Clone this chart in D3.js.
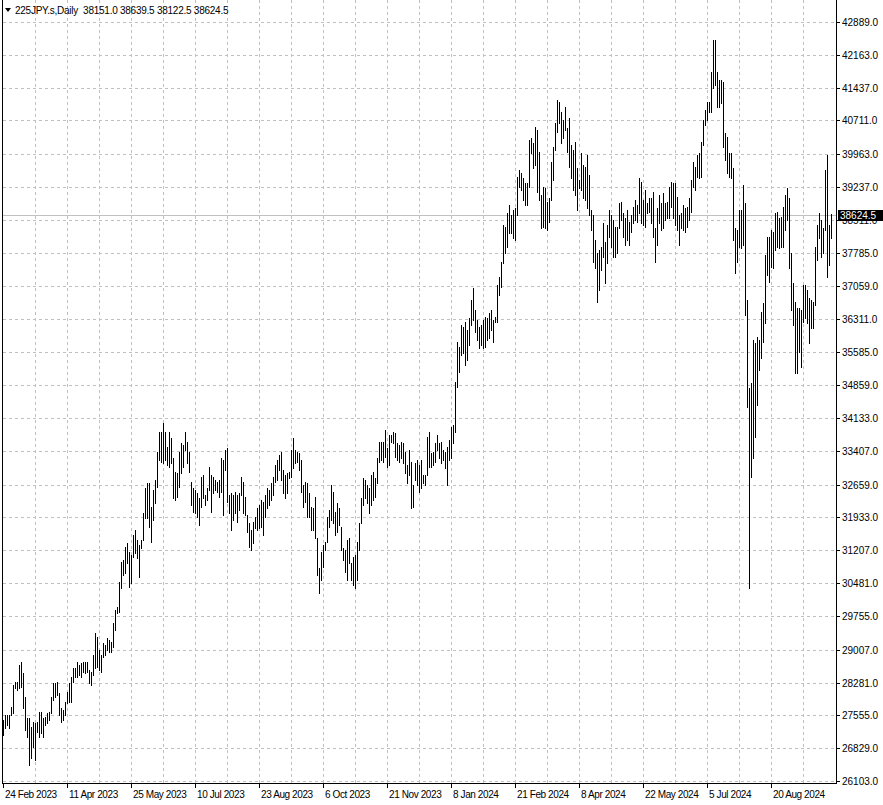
<!DOCTYPE html>
<html><head><meta charset="utf-8">
<script src="https://cdn.jsdelivr.net/npm/d3@7"></script>
<style>
html,body{margin:0;padding:0;background:#fff;}
svg{display:block;}
text{font-family:"Liberation Sans",Arial,sans-serif;font-size:10px;fill:#000;}
</style></head><body>
<svg id="c" width="883" height="805"></svg>
<script>
const symbol = "225JPY.s,Daily";
const lastOHLC = [38151.0, 38639.5, 38122.5, 38624.5];
const priceTicks = [42889.0,42163.0,41437.0,40711.0,39963.0,39237.0,38511.0,37785.0,37059.0,36311.0,35585.0,34859.0,34133.0,33407.0,32659.0,31933.0,31207.0,30481.0,29755.0,29007.0,28281.0,27555.0,26829.0,26103.0];
const dateLabels = ["24 Feb 2023","11 Apr 2023","25 May 2023","10 Jul 2023","23 Aug 2023","6 Oct 2023","21 Nov 2023","8 Jan 2024","21 Feb 2024","8 Apr 2024","22 May 2024","5 Jul 2024","20 Aug 2024"];
const dateLabelBars = [0,32,64,96,128,160,192,224,256,288,320,352,384];
const highs = [27452,27563,27563,27563,27740,28227,28293,28293,28668,28734,28491,27961,27497,27497,27298,27408,27386,27408,27630,27630,
27497,27519,27607,27630,27961,28271,28271,28293,28050,27718,27674,27851,28072,28271,28403,28602,28602,28734,28668,28712,
28734,28734,28734,28558,28513,28889,29376,29288,29000,28889,29155,29111,29265,29221,29177,29597,29885,29951,30504,30947,
30991,31279,31367,31168,31101,31544,31654,31433,31323,31433,32031,32584,32693,32693,32163,32539,32760,33379,33821,33821,
34020,33821,33490,33821,33689,33246,32937,32915,33379,33578,33534,33821,33600,33379,32715,32584,32539,32473,32362,32826,
32870,32429,32584,33047,32870,32826,32760,32715,32760,33246,33202,33423,33468,32429,32473,32429,32495,32429,32473,32826,
32715,32384,31986,31809,31654,31831,31942,32141,32208,32318,32274,32429,32584,32539,32693,32826,33091,33202,33313,33379,
32981,32870,32915,32937,33423,33689,33423,33379,33357,33202,32650,32715,32693,32473,32163,32141,32384,31478,30814,31168,
31323,31389,31942,32097,32650,32495,32053,32252,32141,31721,31256,31212,31433,31478,30924,31057,31101,31389,31809,32362,
32804,32760,32650,32584,32870,32937,32804,33246,33600,33600,33600,33866,33468,33755,33755,33821,33799,33578,33534,33600,
33578,33379,33091,33423,33158,32650,33136,33202,33091,33202,32870,32870,33711,33821,33357,33379,33578,33755,33578,33600,
33423,33379,33490,33644,33932,33976,34928,35812,35702,36188,36144,36255,36078,36343,36741,37007,36520,36299,36144,36188,
36299,36365,36343,36454,36520,36299,36365,37073,37249,37581,38399,38355,38665,38842,38621,38731,38776,39461,39616,39550,
39439,39329,39329,40280,40324,40213,40567,40501,40014,39063,39240,39218,38908,38997,39793,40125,40656,41164,41119,40898,
40721,41009,40545,40766,40169,40059,40236,39660,39395,39992,39727,39682,39948,39506,38731,38621,38068,37780,37847,37913,
38444,38023,38399,38731,38621,38510,38355,38355,38886,38908,38665,38554,38731,38466,38621,38798,38952,38842,39439,39351,
38952,39174,38886,38997,38997,39129,38333,38776,39063,38886,39107,38886,38908,39240,39351,39329,39329,39019,38621,38665,
38842,38776,38798,38997,39395,39793,39682,39948,39992,40236,40721,40942,41119,41119,41783,42491,42491,41783,41606,41606,
41562,40435,40346,39992,39992,39660,38333,38289,38731,38731,39284,38886,36741,34795,34906,35857,35790,35923,35857,36476,
36675,37736,38134,38134,38289,38244,38665,38687,38554,38576,38798,39063,39218,38997,37780,37117,36697,36564,36564,36520,
37073,37073,36963,36786,36741,36697,37913,38399,38665,38510,38333,39616,39948,38399,38639.5];
const lows = [27121,27275,27342,27275,27563,27607,28160,28116,28160,28182,27718,27231,27076,26457,26612,26855,26568,27187,27076,27165,
27076,27342,27386,27452,27607,27895,27961,28005,27563,27408,27452,27563,27829,27851,27851,28293,28403,28403,28447,28403,
28513,28491,28513,28271,28227,28447,28602,28624,28558,28513,28845,28889,29000,28956,28956,29066,29442,29819,29841,30371,
30659,30703,30924,30394,30482,31057,31146,31035,30615,31256,31433,31920,31920,31721,31389,31876,32252,32606,33202,33158,
33136,33202,33091,33047,33136,32362,32318,32384,32606,32915,33047,33423,33136,32937,32208,32053,32031,31942,31765,32163,
32362,32208,32318,32539,32053,32473,32539,32495,32384,32495,31986,32981,32274,32031,31654,31876,32031,31831,32097,32429,
32031,31986,31610,31279,31212,31367,31699,31654,31699,31721,31544,31942,32141,32208,32318,32429,32715,32760,32981,32760,
32473,32362,32473,32804,32826,33025,33136,33158,32981,32495,32163,32274,31942,31942,31654,31654,31478,30659,30261,30549,
30836,31212,31389,31721,31876,31809,31544,31610,31765,31212,30991,30725,30549,30924,30549,30438,30371,30549,31212,31809,
32208,32362,32252,32031,32208,32318,32384,32693,33158,33202,33158,33268,33047,33091,33600,33578,33268,33202,33158,33246,
33136,32915,32693,32870,32141,32163,32760,32650,32495,32584,32693,32650,32870,33047,33047,33091,33158,33423,33246,33136,
33202,33025,32650,33202,33246,33578,33821,34817,35149,35525,35569,35303,35414,35746,36188,36299,36033,35857,35680,35746,
35680,35702,35857,35901,36078,35812,36255,36255,36852,37029,37559,37780,37913,38222,38222,38112,38068,38621,39240,39174,
38952,38842,38842,39240,39992,39660,39727,39129,38952,38333,38355,38333,38289,38466,38952,39395,40059,40457,40656,40213,
40324,40501,40014,39682,39439,39174,39063,38731,39218,39174,38997,38952,38776,38621,38289,37581,37448,36697,36963,37404,
37692,37117,37559,38134,37913,37692,37692,37780,38333,38510,38134,37957,38068,37957,38244,38444,38510,38466,38665,38444,
38399,38355,38665,38687,38444,38134,37581,37957,38444,38289,38333,38510,38554,38554,38798,38554,38399,38289,37957,38333,
38289,38244,38355,38510,38687,39240,39174,39461,39439,39461,40169,40612,40721,40898,40898,41429,41496,41009,41009,41097,
40125,39837,39550,39461,39439,38068,37338,37581,37913,37891,37957,36410,34374,30371,32826,33246,33711,34419,35193,35458,
35812,36233,37293,37139,37470,37448,37847,37913,37891,37913,37913,38289,38510,37448,36520,36188,35127,35127,35591,35259,
36255,36343,36233,35790,36122,36122,36631,37625,38112,37692,37780,38289,37249,37515,38122.5];

const W = 883, H = 805;
const plotLeft = 2, plotRight = 836, plotTop = 0, plotBottom = 783;
const svg = d3.select("#c");
svg.append("rect").attr("width", W).attr("height", H).attr("fill", "#fff");

const x = d3.scaleLinear().domain([0, highs.length - 1]).range([3, 3 + 2 * (highs.length - 1)]);
const y = d3.scaleLinear().domain([26103, 42889]).range([781, 22]);
const py = v => Math.round(y(v));

const grid = svg.append("g").attr("stroke", "#c0c0c0").attr("stroke-dasharray", "3,3")
  .attr("shape-rendering", "crispEdges").attr("stroke-width", 1);
grid.selectAll("line.h").data(priceTicks).enter().append("line")
  .attr("x1", plotLeft + 1).attr("x2", plotRight)
  .attr("y1", d => py(d) + 0.5).attr("y2", d => py(d) + 0.5);
const vBars = d3.range(16, highs.length, 16);
grid.selectAll("line.v").data(vBars).enter().append("line")
  .attr("x1", d => x(d) + 0.5).attr("x2", d => x(d) + 0.5)
  .attr("y1", plotTop).attr("y2", plotBottom);

// current price line
svg.append("line").attr("x1", plotLeft + 1).attr("x2", plotRight)
  .attr("y1", py(lastOHLC[3]) + 0.5).attr("y2", py(lastOHLC[3]) + 0.5)
  .attr("stroke", "#c0c0c0").attr("stroke-width", 1).attr("shape-rendering", "crispEdges");

// bars (high-low)
svg.append("g").attr("stroke", "#000").attr("stroke-width", 1).attr("shape-rendering", "crispEdges")
  .selectAll("line").data(highs.map((h, i) => ({i, h, l: lows[i]}))).enter().append("line")
  .attr("x1", d => x(d.i) + 0.5).attr("x2", d => x(d.i) + 0.5)
  .attr("y1", d => py(d.h)).attr("y2", d => py(d.l) + 1);

// frame
const frame = svg.append("g").attr("stroke", "#000").attr("stroke-width", 1).attr("shape-rendering", "crispEdges");
frame.append("line").attr("x1", plotLeft + 0.5).attr("x2", plotLeft + 0.5).attr("y1", plotTop).attr("y2", plotBottom + 1);
frame.append("line").attr("x1", plotRight + 0.5).attr("x2", plotRight + 0.5).attr("y1", plotTop).attr("y2", plotBottom + 1);
frame.append("line").attr("x1", plotLeft).attr("x2", plotRight + 1).attr("y1", plotBottom + 0.5).attr("y2", plotBottom + 0.5);

// price axis ticks + labels
const pa = svg.append("g");
pa.selectAll("line").data(priceTicks).enter().append("line")
  .attr("x1", plotRight + 1).attr("x2", plotRight + 4)
  .attr("y1", d => py(d) + 0.5).attr("y2", d => py(d) + 0.5)
  .attr("stroke", "#000").attr("shape-rendering", "crispEdges");
pa.selectAll("text").data(priceTicks).enter().append("text")
  .attr("x", plotRight + 6).attr("y", d => py(d) + 4)
  .text(d => d.toFixed(1));

// current price label (covers the upper half of the nearby grid label, as in the reference)
const cy = py(lastOHLC[3]);
svg.append("rect").attr("x", plotRight + 2).attr("y", cy - 5).attr("width", W - plotRight - 2).attr("height", 11).attr("fill", "#000");
svg.append("text").attr("x", plotRight + 4).attr("y", cy + 4).style("fill", "#fff").text(lastOHLC[3].toFixed(1));

// date axis ticks + labels
const da = svg.append("g");
da.selectAll("line").data(dateLabelBars).enter().append("line")
  .attr("x1", d => x(d) + 0.5).attr("x2", d => x(d) + 0.5)
  .attr("y1", plotBottom + 1).attr("y2", plotBottom + 5)
  .attr("stroke", "#000").attr("shape-rendering", "crispEdges");
da.selectAll("text").data(dateLabelBars).enter().append("text")
  .attr("x", d => x(d) + 2).attr("y", plotBottom + 15)
  .style("letter-spacing", "-0.4px")
  .text((d, i) => dateLabels[i]);

// header
svg.append("path").attr("d", "M5,8 L11,8 L8,12 Z").attr("fill", "#000");
svg.append("text").attr("x", 15).attr("y", 14)
  .attr("xml:space", "preserve").style("white-space", "pre").style("letter-spacing", "-0.25px")
  .text(symbol + "  " + lastOHLC.map(v => v.toFixed(1)).join(" "));
</script>
</body></html>
